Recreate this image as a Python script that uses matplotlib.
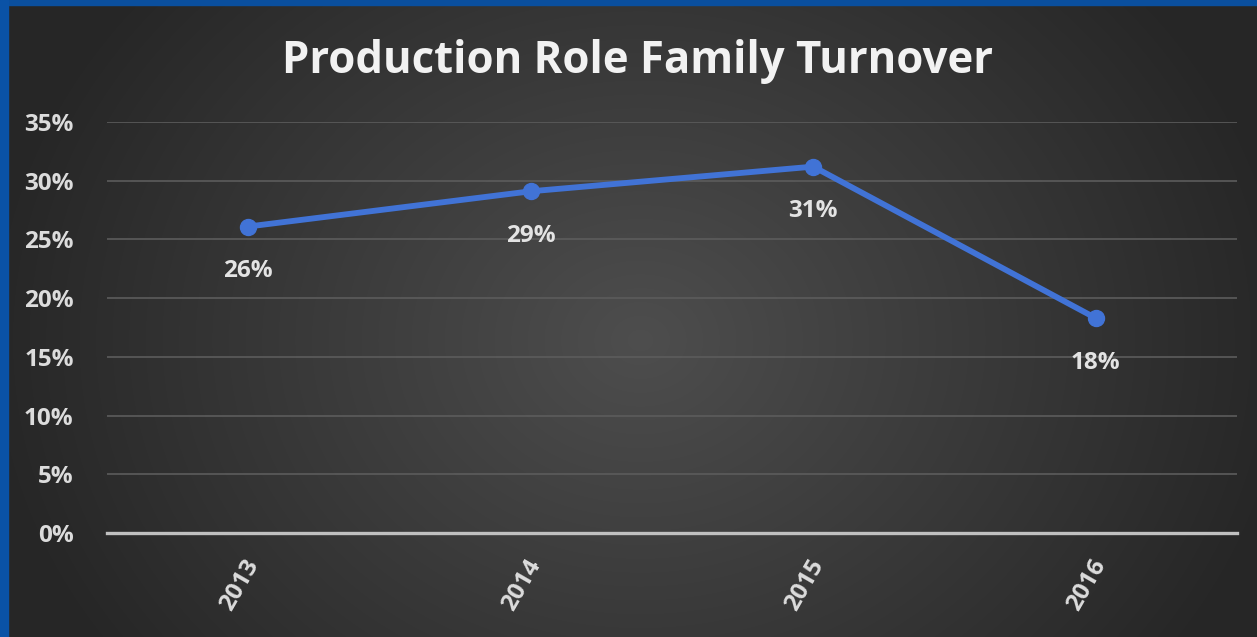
import numpy as np
import matplotlib
matplotlib.use("Agg")
import matplotlib.pyplot as plt
from matplotlib.ticker import FuncFormatter, MultipleLocator
from matplotlib.transforms import ScaledTranslation

years = ["2013", "2014", "2015", "2016"]
turnover = [0.261, 0.291, 0.312, 0.183]
labels = ["26%", "29%", "31%", "18%"]

plt.rcParams['font.family'] = ['Open Sans', 'DejaVu Sans']

W, H = 1257, 637
fig = plt.figure(figsize=(W / 100, H / 100), dpi=100)

# background: blue frame + radial gradient
bg = fig.add_axes([0, 0, 1, 1])
bg.set_xlim(0, W)
bg.set_ylim(H, 0)
bg.axis('off')
yy, xx = np.mgrid[0:H, 0:W]
r = np.sqrt(((xx - 640) / 720) ** 2 + ((yy - 340) / 600) ** 2)
v = np.clip(0.305 - 0.17 * r, 0.15, 0.32)
img = np.dstack([v, v, v])
bg.imshow(img, extent=[0, W, H, 0], aspect='auto', zorder=0)
bg.add_patch(plt.Rectangle((0, 0), W, 5, color='#0a4f9e', zorder=1))
bg.add_patch(plt.Rectangle((0, 0), 8, H, color='#0a52a6', zorder=1))

ax = fig.add_axes([107 / W, 1 - 533 / H, (1237 - 107) / W, (533 - 122) / H])
ax.set_facecolor('none')
x = np.arange(len(years))
ax.plot(x, turnover, color='#4173d6', lw=4.2, marker='o', ms=11.5,
        solid_capstyle='round', zorder=3)
for xi, yi, lab in zip(x, turnover, labels):
    ax.annotate(lab, (xi, yi), xytext=(0, -32), textcoords='offset points',
                ha='center', va='center', color='#e3e3e3', fontsize=17.5,
                fontweight='bold')

ax.set_xlim(-0.5, len(years) - 0.5)
ax.set_ylim(0, 0.35)
ax.yaxis.set_major_locator(MultipleLocator(0.05))
ax.yaxis.set_major_formatter(FuncFormatter(lambda v, p: f"{v*100:.0f}%"))
ax.set_xticks(x)
ax.set_xticklabels(years, rotation=60, ha='right', va='center',
                   rotation_mode='anchor',
                   fontsize=17.5, fontweight='bold', color='#dcdcdc')
ax.tick_params(axis='x', length=0, pad=20)
shift = ScaledTranslation(5 / 100, 0, fig.dpi_scale_trans)
for t in ax.get_xticklabels():
    t.set_transform(t.get_transform() + shift)
ax.tick_params(axis='y', length=0, pad=24, labelsize=17.5, labelcolor='#dcdcdc')
for t in ax.get_yticklabels():
    t.set_fontweight('bold')
ax.grid(axis='y', color='#5c5c5c', lw=1.2)
ax.set_axisbelow(True)
for s in ['top', 'right', 'left']:
    ax.spines[s].set_visible(False)
ax.spines['bottom'].set_color('#c0c0c0')
ax.spines['bottom'].set_linewidth(2.4)

fig.text(638 / W, 1 - 61 / H, "Production Role Family Turnover", ha='center',
         va='center', color='#f2f2f2', fontsize=31.5, fontweight='bold')

fig.savefig("out.png", dpi=100)
